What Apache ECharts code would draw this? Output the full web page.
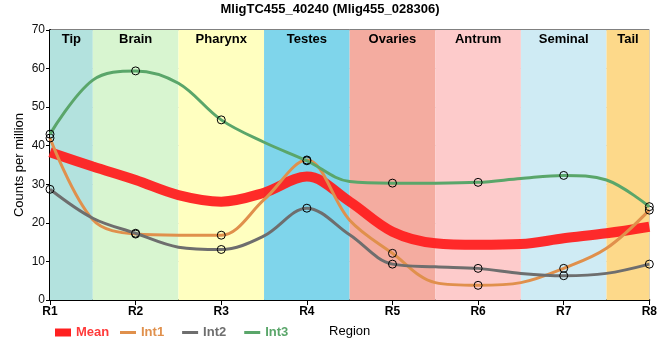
<!DOCTYPE html>
<html>
<head>
<meta charset="utf-8">
<script src="https://cdn.jsdelivr.net/npm/echarts@6/dist/echarts.min.js"></script>
<style>html,body{margin:0;padding:0;background:#fff}#c{width:660px;height:360px}</style>
</head>
<body>
<div id="c"></div>
<script>
// Positions along the region axis (R1..R8 with mid-band points)
var xPos = [1, 1.5, 2, 2.5, 3, 3.5, 4, 4.5, 5, 5.5, 6, 6.5, 7, 7.5, 8];
var meanVals = [38.3, 34.6, 31.1, 27.2, 25.5, 27.8, 32.0, 25.5, 17.7, 14.7, 14.3, 14.5, 16.0, 17.3, 19.0];
var int1Vals = [42.0, 20.8, 17.1, 16.8, 16.8, 26.0, 36.3, 20.7, 12.1, 4.5, 3.8, 4.5, 8.2, 13.4, 23.3];
var int2Vals = [28.7, 21.2, 17.3, 13.7, 13.1, 16.6, 23.8, 16.9, 9.3, 8.6, 8.2, 6.9, 6.3, 6.9, 9.3];
var int3Vals = [43.0, 57.0, 59.4, 56.2, 46.7, 40.9, 36.1, 30.7, 30.3, 30.3, 30.5, 31.5, 32.3, 31.1, 24.2];
var regionLabels = ['R1', 'R2', 'R3', 'R4', 'R5', 'R6', 'R7', 'R8'];
var bandNames = ['Tip', 'Brain', 'Pharynx', 'Testes', 'Ovaries', 'Antrum', 'Seminal', 'Tail'];
var bandEdges = [1, 1.5, 2.5, 3.5, 4.5, 5.5, 6.5, 7.5, 8];
var bandColors = ['#b3e2de', '#d8f5d0', '#ffffc0', '#7fd5eb', '#f4aca0', '#fdcbcb', '#cfebf4', '#fdd98a'];
var seriesNames = ['Mean', 'Int1', 'Int2', 'Int3'];
var seriesColors = ['#ff2020', '#e0904c', '#6e6e6e', '#5aa66a'];

function pairs(vals) { return xPos.map(function (x, i) { return [x, vals[i]]; }); }

var bandAreas = bandNames.map(function (n, i) {
  return [{ name: n, xAxis: bandEdges[i], itemStyle: { color: bandColors[i] } }, { xAxis: bandEdges[i + 1] }];
});

function symSize(v) { return Number.isInteger(v[0]) ? 8 : 0; }

var chart = echarts.init(document.getElementById('c'));
var font = 'Liberation Sans, Arial, sans-serif';
var allVals = [meanVals, int1Vals, int2Vals, int3Vals];
var series = [{
  type: 'line', name: '_bands', data: [], z: -1, silent: true,
  markArea: {
    silent: true,
    label: { show: true, position: 'insideTop', distance: 3, color: '#000', fontWeight: 'bold', fontSize: 13, fontFamily: font },
    data: bandAreas
  }
}];
seriesNames.forEach(function (n, i) {
  var isMean = i === 0;
  series.push({
    type: 'line', name: n, data: pairs(allVals[i]),
    smooth: 0.35,
    color: seriesColors[i],
    lineStyle: { color: seriesColors[i], width: isMean ? 10 : 3, opacity: isMean ? 0.95 : 1 },
    showSymbol: !isMean,
    symbol: 'circle',
    symbolSize: isMean ? 0 : symSize,
    itemStyle: { color: 'rgba(0,0,0,0)', borderColor: '#000', borderWidth: 1 },
    z: 3 + i
  });
});

chart.setOption({
  animation: false,
  title: { text: 'MligTC455_40240 (Mlig455_028306)', left: 'center', top: 3, padding: 0,
    textStyle: { fontSize: 13, fontWeight: 'bold', color: '#000', fontFamily: font } },
  legend: [{
    left: 55, top: 326, padding: 0, itemWidth: 16, itemHeight: 8, itemGap: 12,
    textStyle: { fontSize: 13, fontWeight: 'bold', fontFamily: font },
    data: [{ name: 'Mean', icon: 'rect', itemStyle: { color: seriesColors[0], borderWidth: 0 }, textStyle: { color: '#ff3a3a' } }]
  }, {
    left: 120, top: 326, padding: 0, itemWidth: 16, itemHeight: 3, itemGap: 18,
    textStyle: { fontSize: 13, fontWeight: 'bold', fontFamily: font },
    data: [1, 2, 3].map(function (i) {
      return { name: seriesNames[i], icon: 'rect', itemStyle: { color: seriesColors[i], borderWidth: 0 }, textStyle: { color: seriesColors[i] } };
    })
  }],
  grid: { left: 50, right: 10, top: 30, bottom: 60, show: true, borderColor: '#000', borderWidth: 1, backgroundColor: 'transparent' },
  xAxis: {
    type: 'value', min: 1, max: 8, interval: 1,
    name: 'Region', nameLocation: 'middle', nameGap: 25, nameMoveOverlap: false,
    nameTextStyle: { fontSize: 13, color: '#000', fontFamily: font },
    axisLine: { lineStyle: { color: '#000', width: 2 } },
    axisTick: { show: true, length: 5, lineStyle: { color: '#000' } },
    axisLabel: { formatter: function (v) { return regionLabels[v - 1]; }, fontSize: 12, fontWeight: 'bold', color: '#000', margin: 6, fontFamily: font },
    splitLine: { show: true, lineStyle: { color: '#cccccc', width: 1 } }
  },
  yAxis: {
    type: 'value', min: 0, max: 70, interval: 10,
    name: 'Counts per million', nameLocation: 'middle', nameGap: 24, nameMoveOverlap: false,
    nameTextStyle: { fontSize: 13, color: '#000', fontFamily: font },
    axisLine: { show: true, lineStyle: { color: '#000', width: 2 } },
    axisTick: { show: true, length: 4, lineStyle: { color: '#000' } },
    axisLabel: { fontSize: 12, color: '#111', margin: 5, fontFamily: font },
    splitLine: { show: true, lineStyle: { color: '#cccccc', width: 1 } }
  },
  series: series
});
</script>
</body>
</html>
